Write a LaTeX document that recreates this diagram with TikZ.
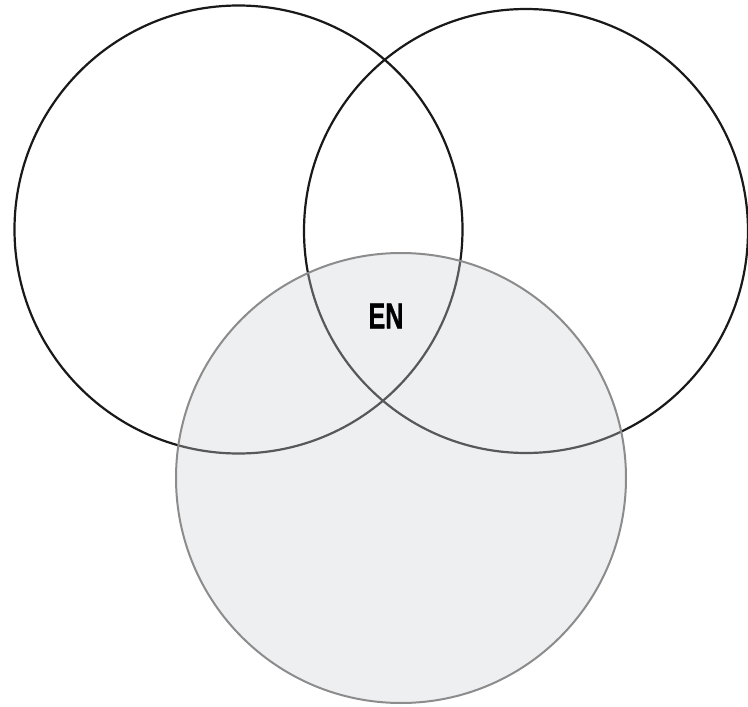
\documentclass[tikz,border=0pt]{standalone}
\usepackage{fontspec}
\setmainfont{Liberation Sans}
\newfontfamily\enfont[FakeBold=1.2]{Liberation Sans Bold}
\definecolor{setfill}{RGB}{205,211,214}
\definecolor{setline}{RGB}{140,140,140}
\definecolor{inkline}{RGB}{25,25,25}
\tikzset{
  setcircle/.style={circle, inner sep=0pt, line width=2.2pt},
  blackset/.style={setcircle, draw=inkline},
  grayset/.style={setcircle, draw=setline, fill=setfill, fill opacity=0.34, draw opacity=1, line width=2pt},
  setlabel/.style={font=\enfont\fontsize{36}{36}\selectfont, xscale=0.7, inner sep=0pt, text=black}
}
\begin{document}
\begin{tikzpicture}[x=1pt,y=-1pt]
  \useasboundingbox (0,0) rectangle (748,707);
  \fill[white] (0,0) rectangle (748,707);
  \node[blackset, minimum size=448pt] (left) at (238.5,229.5) {};
  \node[blackset, minimum size=444pt] (right) at (526,231) {};
  \node[grayset, minimum size=450pt] (bottom) at (401,478) {};
  \node[setlabel] (en) at (386,316) {EN};
\end{tikzpicture}
\end{document}
